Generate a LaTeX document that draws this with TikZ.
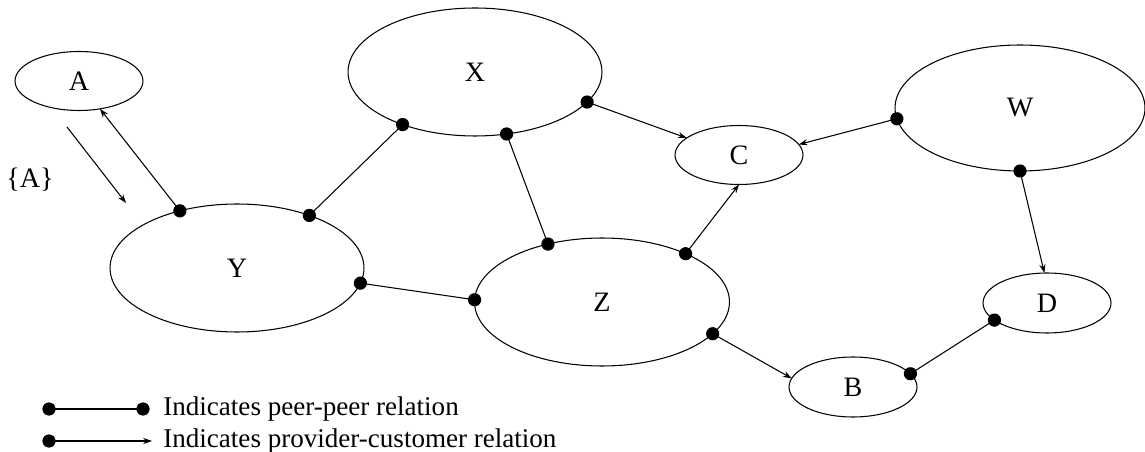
\documentclass[tikz,border=0pt]{standalone}
\usepackage{fontspec}
\setmainfont{Liberation Serif}
\usetikzlibrary{arrows.meta, shapes.geometric}

\begin{document}
\begin{tikzpicture}[x=0.02cm, y=-0.02cm,
			font=\fontsize{16}{18}\selectfont,
			as/.style = {draw, ellipse, line width=0.6pt, inner sep=0pt, outer sep=0pt},
			small/.style = {as, minimum width=2.56cm, minimum height=1.18cm},
			big/.style = {as, minimum width=5.08cm, minimum height=2.56cm},
			peer/.style = {line width=0.6pt, {Circle[length=7.5pt]}-{Circle[length=7.5pt]}, shorten <=-3.75pt, shorten >=-3.75pt},
			prov/.style = {line width=0.6pt, {Circle[length=7.5pt]}-{Stealth[length=5pt, width=3.5pt]}, shorten <=-3.75pt},
			legend/.style = {anchor=west, inner sep=0pt, font=\fontsize{15.4}{18}\selectfont}
			]
			\useasboundingbox (0,0) rectangle (1145,452);
			
			% autonomous systems
			\node[small] (A) at (79,81) {A};
			\node[big] (X) at (475,72) {X};
			\node[big, minimum width=5cm, minimum height=2.52cm] (W) at (1020,108) {W};
			\node[small] (C) at (739,155) {C};
			\node[big] (Y) at (237,268) {Y};
			\node[big, minimum width=5.1cm] (Z) at (602,302) {Z};
			\node[small, minimum height=1.2cm] (D) at (1047,303) {D};
			\node[small, minimum height=1.2cm] (B) at (853,387) {B};
			
			% relations
			\draw[prov] (Y.135) -- (A.307);
			\draw[peer] (Y.36) -- (X.216);
			\draw[peer] (Y.-7) -- (Z.179);
			\draw[peer] (X.297) -- (Z.133);
			\draw[prov] (X.345) -- (C.162);
			\draw[prov] (W.185) -- (C.10);
			\draw[prov] (Z.30) -- (C.south);
			\draw[prov] (W.south) -- (D.95);
			\draw[prov] (Z.-16) -- (B.172);
			\draw[peer] (B.13) -- (D.198);
			
			% route advertisement
			\coordinate (adv tail) at (67,127);
			\coordinate (adv head) at (126,203);
			\draw[line width=0.6pt, -{Stealth[length=5pt, width=3.5pt]}] (adv tail) -- (adv head);
			\node (advlbl) at (30,180) {\{A\}};
			
			% legend
			\coordinate (peer a) at (49,409);
			\coordinate (peer b) at (143,409);
			\draw[peer] (peer a) -- (peer b);
			\node[legend] (peer txt) at (163,409) {Indicates peer-peer relation};
			
			\coordinate (prov a) at (49,441);
			\coordinate (prov b) at (152,441);
			\draw[prov] (prov a) -- (prov b);
			\node[legend] (prov txt) at (163,441) {Indicates provider-customer relation};
		\end{tikzpicture}
\end{document}
